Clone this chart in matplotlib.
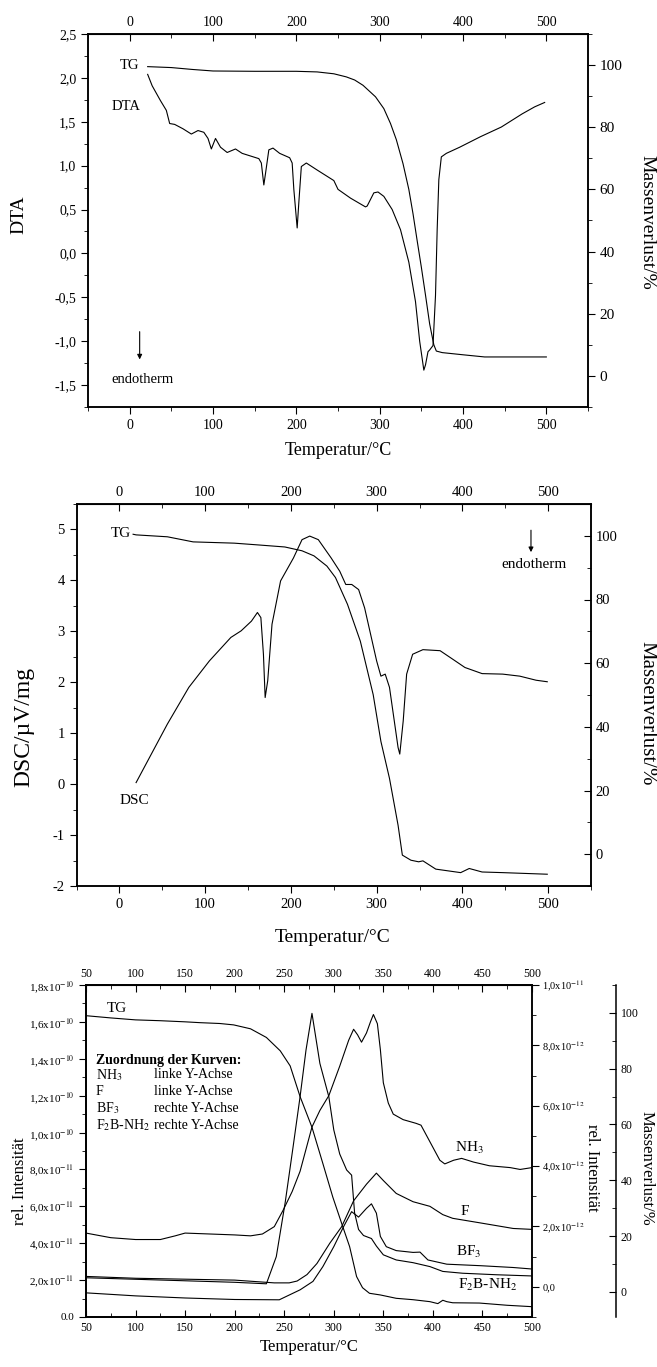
import numpy as np
import matplotlib
matplotlib.use("Agg")
import matplotlib.pyplot as plt
from matplotlib.ticker import MultipleLocator, FuncFormatter

plt.rcParams['font.family'] = ['Liberation Serif', 'DejaVu Serif']
plt.rcParams['mathtext.fontset'] = 'stix'
plt.rcParams['axes.unicode_minus'] = False

# ---- panel 1: DTA + TG ----
dta_t = [21.6, 27, 37, 44, 48, 54, 64, 74, 82, 89, 94, 98, 103, 109, 117, 127, 135, 145,
         155, 158, 161, 163, 167, 172, 180, 192, 195, 197, 201, 203, 206, 212, 225, 240,
         245, 250, 265, 283, 285, 293, 298, 305, 315, 325, 335, 343, 348, 353, 355, 358,
         360, 364, 367, 369, 371, 374, 380, 396, 421, 446, 471, 486, 498]
dta_v = [2.04, 1.91, 1.74, 1.63, 1.48, 1.47, 1.42, 1.36, 1.40, 1.38, 1.31, 1.19, 1.31, 1.21,
         1.15, 1.19, 1.14, 1.11, 1.08, 1.03, 0.78, 0.91, 1.18, 1.20, 1.14, 1.09, 1.03, 0.73,
         0.29, 0.58, 0.99, 1.03, 0.95, 0.86, 0.83, 0.73, 0.63, 0.53, 0.54, 0.69, 0.70, 0.65,
         0.50, 0.27, -0.10, -0.55, -1.00, -1.33, -1.27, -1.12, -1.10, -1.05, -0.48, 0.27,
         0.84, 1.10, 1.14, 1.21, 1.33, 1.44, 1.59, 1.67, 1.72]
tg1_t = [21.6, 50, 75, 100, 150, 200, 225, 245, 260, 270, 280, 295, 305, 313, 320, 328,
         335, 340, 345, 350, 355, 360, 365, 368, 375, 400, 426, 460, 500]
tg1_v = [99.5, 99.2, 98.6, 98.1, 98.0, 98.0, 97.8, 97.2, 96.2, 95.2, 93.5, 89.8, 86.0, 81.2,
         76.0, 68.3, 60.0, 52.2, 43.5, 35.0, 26.0, 16.7, 10.0, 8.0, 7.5, 6.8, 6.1, 6.1, 6.1]

# ---- panel 2: DSC + TG ----
dsc_t = [19.5, 56, 81, 105, 130, 142, 154, 161, 165, 168, 170, 173, 178, 188, 203, 213, 222,
         232, 247, 257, 264, 271, 279, 286, 293, 300, 305, 310, 315, 320, 325, 327, 331, 335,
         342, 354, 374, 389, 403, 423, 447, 467, 486, 499]
dsc_v = [0.03, 1.18, 1.90, 2.42, 2.88, 3.01, 3.20, 3.37, 3.27, 2.55, 1.70, 2.03, 3.14, 3.99,
         4.44, 4.80, 4.87, 4.80, 4.44, 4.18, 3.92, 3.92, 3.82, 3.46, 2.94, 2.42, 2.12, 2.16,
         1.90, 1.31, 0.72, 0.59, 1.24, 2.16, 2.55, 2.64, 2.62, 2.45, 2.29, 2.17, 2.16, 2.12,
         2.04, 2.01]
tg2_t = [16, 19.5, 56, 86, 134, 164, 193, 213, 227, 242, 252, 266, 281, 296, 305, 315, 325,
         330, 340, 349, 354, 369, 398, 408, 423, 447, 499]
tg2_v = [100.5, 100.3, 99.7, 98.1, 97.7, 97.1, 96.5, 95.3, 93.7, 90.5, 86.9, 78.5, 66.9, 50.1,
         35.4, 23.8, 9.1, -0.3, -1.9, -2.4, -2.1, -4.7, -5.8, -4.5, -5.6, -5.8, -6.3]

# ---- panel 3: MS ion currents + TG ----
nh3_t = [50, 75, 100, 125, 140, 150, 175, 200, 216, 228, 240, 249, 258, 266, 278, 286, 295,
         306, 315, 320, 324, 328, 333, 337, 340, 344, 347, 350, 355, 360, 370, 383, 388, 392,
         400, 407, 412, 421, 429, 441, 457, 478, 488, 500]
nh3_v = [4.55, 4.3, 4.2, 4.2, 4.4, 4.55, 4.5, 4.45, 4.4, 4.5, 4.9, 5.8, 6.8, 7.9, 10.3, 11.2,
         12.0, 13.6, 15.0, 15.6, 15.3, 14.9, 15.4, 16.0, 16.4, 15.9, 14.5, 12.7, 11.6, 11.0,
         10.7, 10.5, 10.4, 10.0, 9.2, 8.5, 8.3, 8.5, 8.6, 8.4, 8.2, 8.1, 8.0, 8.1]  # x1e-11
f_t = [50, 100, 150, 200, 240, 255, 263, 273, 283, 296, 308, 320, 333, 343, 350, 363, 380,
       397, 410, 420, 448, 481, 500]
f_v = [2.2, 2.1, 2.05, 2.0, 1.85, 1.85, 1.95, 2.3, 2.9, 4.0, 4.9, 6.3, 7.2, 7.8, 7.4, 6.7,
       6.25, 6.0, 5.55, 5.35, 5.1, 4.8, 4.75]  # x1e-11
bf3_t = [50, 100, 150, 200, 245, 266, 279, 289, 300, 310, 318, 325, 333, 338, 343, 347, 353,
         363, 380, 387, 395, 414, 448, 481, 500]
bf3_v = [-0.2, -0.3, -0.37, -0.42, -0.43, -0.1, 0.18, 0.67, 1.33, 2.0, 2.49, 2.31, 2.6, 2.75,
         2.44, 1.67, 1.33, 1.2, 1.14, 1.15, 0.89, 0.75, 0.70, 0.64, 0.59]  # x1e-12
fb_t = [50, 100, 150, 200, 232, 242, 251, 259, 266, 272, 278, 286, 295, 300, 306, 313, 318,
        321, 325, 330, 338, 343, 350, 363, 380, 397, 410, 430, 464, 500]
fb_v = [0.3, 0.25, 0.2, 0.15, 0.1, 1.0, 2.8, 4.65, 6.3, 7.85, 9.06, 7.4, 6.3, 5.2, 4.4, 3.87,
        3.7, 2.45, 1.9, 1.7, 1.6, 1.35, 1.06, 0.89, 0.80, 0.67, 0.51, 0.45, 0.40, 0.36]  # x1e-12
tg3_t = [50, 75, 100, 125, 150, 165, 185, 199, 216, 232, 246, 256, 266, 278, 289, 299, 308,
         316, 323, 329, 336, 347, 363, 380, 397, 405, 410, 414, 420, 447, 475, 500]
tg3_v = [99.0, 98.2, 97.5, 97.2, 96.8, 96.5, 96.2, 95.7, 94.3, 91.2, 86.4, 81.0, 70.0, 59.0,
         46.0, 34.0, 24.5, 16.2, 5.5, 1.5, -0.5, -1.1, -2.3, -2.8, -3.5, -4.2, -3.0, -3.5,
         -3.9, -4.0, -4.8, -5.3]

W, H = 657, 1367
fig = plt.figure(figsize=(W / 100, H / 100), dpi=100)


def box(x0, y0, x1, y1):
    # pixel box -> figure fraction rect
    return [x0 / W, 1 - y1 / H, (x1 - x0) / W, (y1 - y0) / H]


def ftext(x, y, s, **kw):
    fig.text(x / W, 1 - y / H, s, ha='center', va='center', **kw)


def comma(v, pos):
    return f"{v:.1f}".replace('.', ',')


def sci(zero):
    def f(v, pos):
        if abs(v) < 1e-20:
            return zero
        e = int(np.floor(np.log10(abs(v)) + 1e-9))
        m = v / 10 ** e
        return f"{m:.1f}".replace('.', ',') + "x10$^{%d}$" % e
    return f


LW = 0.8

# ================= panel 1 =================
ax1 = fig.add_axes(box(88, 34, 588, 407))
ax1.plot(dta_t, dta_v, color='k', lw=LW)
ax1.set_xlim(-50, 550)
ax1.set_ylim(-1.75, 2.5)
ax1.xaxis.set_major_locator(MultipleLocator(100))
ax1.xaxis.set_minor_locator(MultipleLocator(50))
ax1.yaxis.set_major_locator(MultipleLocator(0.5))
ax1.yaxis.set_minor_locator(MultipleLocator(0.25))
ax1.yaxis.set_major_formatter(FuncFormatter(comma))
ax1.tick_params(which='both', direction='out', labelsize=10)
ax1.tick_params(which='major', length=5)
ax1.tick_params(which='minor', length=3)
top1 = ax1.secondary_xaxis('top')
top1.xaxis.set_major_locator(MultipleLocator(100))
top1.xaxis.set_minor_locator(MultipleLocator(50))
top1.tick_params(which='both', direction='in', labelsize=10)
top1.tick_params(which='major', length=5)
top1.tick_params(which='minor', length=3)
ax1r = ax1.twinx()
ax1r.plot(tg1_t, tg1_v, color='k', lw=LW)
ax1r.set_ylim(-10, 110)
ax1r.set_yticks([0, 20, 40, 60, 80, 100])
ax1r.yaxis.set_minor_locator(MultipleLocator(10))
ax1r.tick_params(which='both', direction='out', labelsize=11)
ax1r.tick_params(which='major', length=5)
ax1r.tick_params(which='minor', length=3)
ax1.text(12, 2.14, 'TG', ha='right', va='center', fontsize=10.5)
ax1.text(-4, 1.67, 'DTA', ha='center', va='center', fontsize=10.5)
ax1.text(15, -1.44, 'endotherm', ha='center', va='center', fontsize=10.5)
ax1.annotate('', xy=(12, -1.24), xytext=(12, -0.86),
             arrowprops=dict(arrowstyle='-|>', color='k', lw=0.8, mutation_scale=7))
ftext(18.5, 215, 'DTA', rotation=90, fontsize=14)
ftext(647, 222, 'Massenverlust/%', rotation=270, fontsize=14)
ftext(338, 451, 'Temperatur/°C', fontsize=13)

# ================= panel 2 =================
ax2 = fig.add_axes(box(76.5, 504, 591, 886))
ax2.plot(dsc_t, dsc_v, color='k', lw=LW)
ax2.set_xlim(-50, 550)
ax2.set_ylim(-2, 5.5)
ax2.xaxis.set_major_locator(MultipleLocator(100))
ax2.xaxis.set_minor_locator(MultipleLocator(50))
ax2.yaxis.set_major_locator(MultipleLocator(1))
ax2.yaxis.set_minor_locator(MultipleLocator(0.5))
ax2.tick_params(which='both', direction='out', labelsize=10.5)
ax2.tick_params(which='major', length=5)
ax2.tick_params(which='minor', length=3)
top2 = ax2.secondary_xaxis('top')
top2.xaxis.set_major_locator(MultipleLocator(100))
top2.xaxis.set_minor_locator(MultipleLocator(50))
top2.tick_params(which='both', direction='in', labelsize=10.5)
top2.tick_params(which='major', length=5)
top2.tick_params(which='minor', length=3)
ax2r = ax2.twinx()
ax2r.plot(tg2_t, tg2_v, color='k', lw=LW)
ax2r.set_ylim(-10, 110)
ax2r.set_yticks([0, 20, 40, 60, 80, 100])
ax2r.yaxis.set_minor_locator(MultipleLocator(10))
ax2r.tick_params(which='both', direction='in', labelsize=10.5)
ax2r.tick_params(which='major', length=5)
ax2r.tick_params(which='minor', length=3)
ax2.text(13, 4.92, 'TG', ha='right', va='center', fontsize=11)
ax2.text(17, -0.33, 'DSC', ha='center', va='center', fontsize=11)
ax2.text(484, 4.31, 'endotherm', ha='center', va='center', fontsize=11)
ax2.annotate('', xy=(480, 4.5), xytext=(480, 5.04),
             arrowprops=dict(arrowstyle='-|>', color='k', lw=0.8, mutation_scale=7))
ftext(24, 727, 'DSC/µV/mg', rotation=90, fontsize=17)
ftext(647, 713, 'Massenverlust/%', rotation=270, fontsize=15)
ftext(333, 937, 'Temperatur/°C', fontsize=14)

# ================= panel 3 =================
ax3 = fig.add_axes(box(86, 985, 532, 1317))
ax3.plot(nh3_t, np.array(nh3_v) * 1e-11, color='k', lw=LW)
ax3.plot(f_t, np.array(f_v) * 1e-11, color='k', lw=LW)
ax3.set_xlim(50, 500)
ax3.set_ylim(0, 1.8e-10)
ax3.xaxis.set_major_locator(MultipleLocator(50))
ax3.xaxis.set_minor_locator(MultipleLocator(25))
ax3.yaxis.set_major_locator(MultipleLocator(2e-11))
ax3.yaxis.set_minor_locator(MultipleLocator(1e-11))
ax3.yaxis.set_major_formatter(FuncFormatter(sci("0.0")))
ax3.tick_params(axis='y', which='both', direction='out', labelsize=8)
ax3.tick_params(axis='x', which='both', direction='in', labelsize=8.5)
ax3.tick_params(which='major', length=5)
ax3.tick_params(which='minor', length=3)
top3 = ax3.secondary_xaxis('top')
top3.xaxis.set_major_locator(MultipleLocator(50))
top3.xaxis.set_minor_locator(MultipleLocator(25))
top3.tick_params(which='both', direction='in', labelsize=8.5)
top3.tick_params(which='major', length=5)
top3.tick_params(which='minor', length=3)

ax3r = ax3.twinx()
ax3r.plot(bf3_t, np.array(bf3_v) * 1e-12, color='k', lw=LW)
ax3r.plot(fb_t, np.array(fb_v) * 1e-12, color='k', lw=LW)
ax3r.set_ylim(-1e-12, 1e-11)
ax3r.yaxis.set_major_locator(MultipleLocator(2e-12))
ax3r.yaxis.set_minor_locator(MultipleLocator(1e-12))
ax3r.yaxis.set_major_formatter(FuncFormatter(sci("0,0")))
ax3r.tick_params(which='both', direction='out', labelsize=7.5, pad=2.5)
ax3r.tick_params(which='major', length=5)
ax3r.tick_params(which='minor', length=3)

ax3m = ax3.twinx()
ax3m.spines['right'].set_position(('axes', (616 - 86) / 446))
ax3m.plot(tg3_t, tg3_v, color='k', lw=LW)
ax3m.set_ylim(-9, 110)
ax3m.set_yticks([0, 20, 40, 60, 80, 100])
ax3m.yaxis.set_minor_locator(MultipleLocator(10))
ax3m.tick_params(which='both', direction='in', labelsize=8.5)
ax3m.tick_params(which='major', length=5)
ax3m.tick_params(which='minor', length=3)

ax3.text(0.07, 0.93, 'TG', transform=ax3.transAxes, ha='center', va='center', fontsize=11)
ax3.text(0.859, 0.509, 'NH$_3$', transform=ax3.transAxes, ha='center', va='center', fontsize=11)
ax3.text(0.85, 0.317, 'F', transform=ax3.transAxes, ha='center', va='center', fontsize=11)
ax3.text(0.859, 0.197, 'BF$_3$', transform=ax3.transAxes, ha='center', va='center', fontsize=11)
ax3.text(0.90, 0.096, 'F$_2$B-NH$_2$', transform=ax3.transAxes, ha='center', va='center',
         fontsize=11)

leg_x0, leg_x1 = 0.0224, 0.152
ax3.text(leg_x0, 0.774, 'Zuordnung der Kurven:', transform=ax3.transAxes, ha='left',
         va='center', fontsize=10, fontweight='bold')
leg_rows = [('NH$_3$', 'linke Y-Achse'), ('F', 'linke Y-Achse'),
            ('BF$_3$', 'rechte Y-Achse'), ('F$_2$B-NH$_2$', 'rechte Y-Achse')]
for i, (a, b) in enumerate(leg_rows):
    yy = 0.729 - i * 0.0503
    ax3.text(leg_x0, yy, a, transform=ax3.transAxes, ha='left', va='center', fontsize=10)
    ax3.text(leg_x1, yy, b, transform=ax3.transAxes, ha='left', va='center', fontsize=10)

ftext(20, 1181, 'rel. Intensität', rotation=90, fontsize=12)
ftext(592, 1168, 'rel. Intensität', rotation=270, fontsize=12)
ftext(647, 1168, 'Massenverlust/%', rotation=270, fontsize=12)
ftext(309, 1347, 'Temperatur/°C', fontsize=12)

for a in (ax1, ax1r, ax2, ax2r, ax3, ax3r, ax3m):
    for s in a.spines.values():
        s.set_linewidth(1.1)

fig.savefig('out.png', dpi=100)
